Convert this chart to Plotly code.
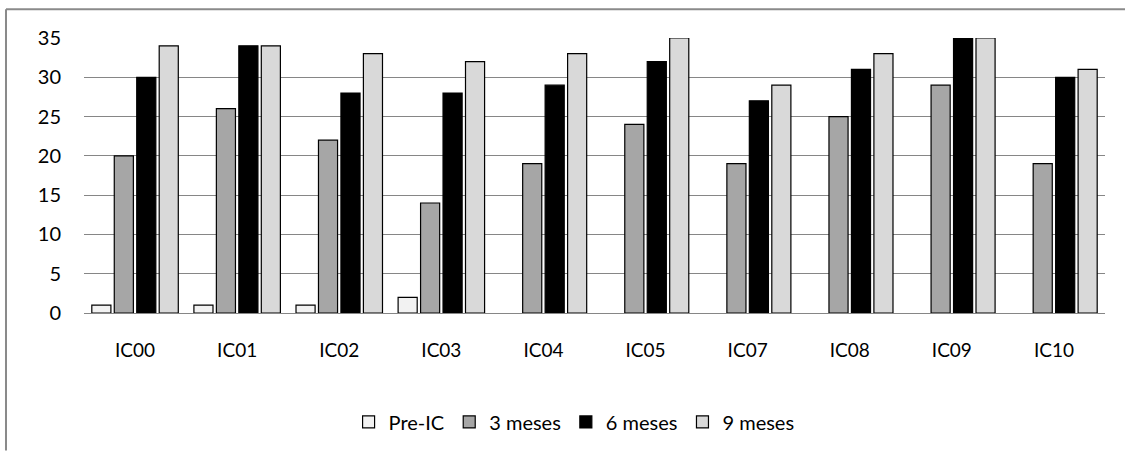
import plotly.graph_objects as go

categories = ["IC00", "IC01", "IC02", "IC03", "IC04", "IC05", "IC07", "IC08", "IC09", "IC10"]
pre_ic = [1, 1, 1, 2, 0, 0, 0, 0, 0, 0]
meses3 = [20, 26, 22, 14, 19, 24, 19, 25, 29, 19]
meses6 = [30, 34, 28, 28, 29, 32, 27, 31, 35, 30]
meses9 = [34, 34, 33, 32, 33, 35, 29, 33, 35, 31]
series_names = ["Pre-IC", "3 meses", "6 meses", "9 meses"]
y_ticks = [0, 5, 10, 15, 20, 25, 30, 35]

colors = ["#f2f2f2", "#a6a6a6", "#000000", "#d9d9d9"]
FONT = "Lato, 'Open Sans', sans-serif"

fig = go.Figure()
for name, vals, col in zip(series_names, [pre_ic, meses3, meses6, meses9], colors):
    fig.add_trace(go.Bar(
        x=categories, y=[v if v else None for v in vals], name=name,
        marker=dict(color=col, line=dict(color="#000000", width=1.2)),
    ))

fig.update_layout(
    width=1125, height=452,
    margin=dict(l=84, r=20, t=38, b=138),
    paper_bgcolor="white", plot_bgcolor="white",
    barmode="group", bargap=0.12, bargroupgap=0.15,
    font=dict(family=FONT, color="#000000"),
    showlegend=True,
    legend=dict(
        orientation="h", x=0.48, xanchor="center", y=-0.391, yanchor="middle",
        font=dict(size=20, family=FONT), itemwidth=30, traceorder="normal",
        bgcolor="rgba(0,0,0,0)",
    ),
    xaxis=dict(
        showgrid=False, showline=False, ticks="",
        tickfont=dict(size=19, family=FONT), ticklabelstandoff=24,
    ),
    yaxis=dict(
        range=[0, 35], tickvals=y_ticks, showgrid=True, gridcolor="#868686", gridwidth=1.3,
        zeroline=True, zerolinecolor="#868686", zerolinewidth=1.3,
        showline=False, ticks="", tickfont=dict(size=20, family=FONT), ticklabelstandoff=22,
    ),
    shapes=[
        dict(type="line", xref="paper", yref="paper", x0=-0.0764, x1=1.03, y0=1.105, y1=1.105,
             line=dict(color="#8a8a8a", width=2)),
        dict(type="line", xref="paper", yref="paper", x0=-0.0764, x1=-0.0764, y0=1.105, y1=-0.5,
             line=dict(color="#8a8a8a", width=2)),
    ],
)

fig.write_html("out.html", config={"displayModeBar": False},
               post_script="document.body.style.margin='0px';")
